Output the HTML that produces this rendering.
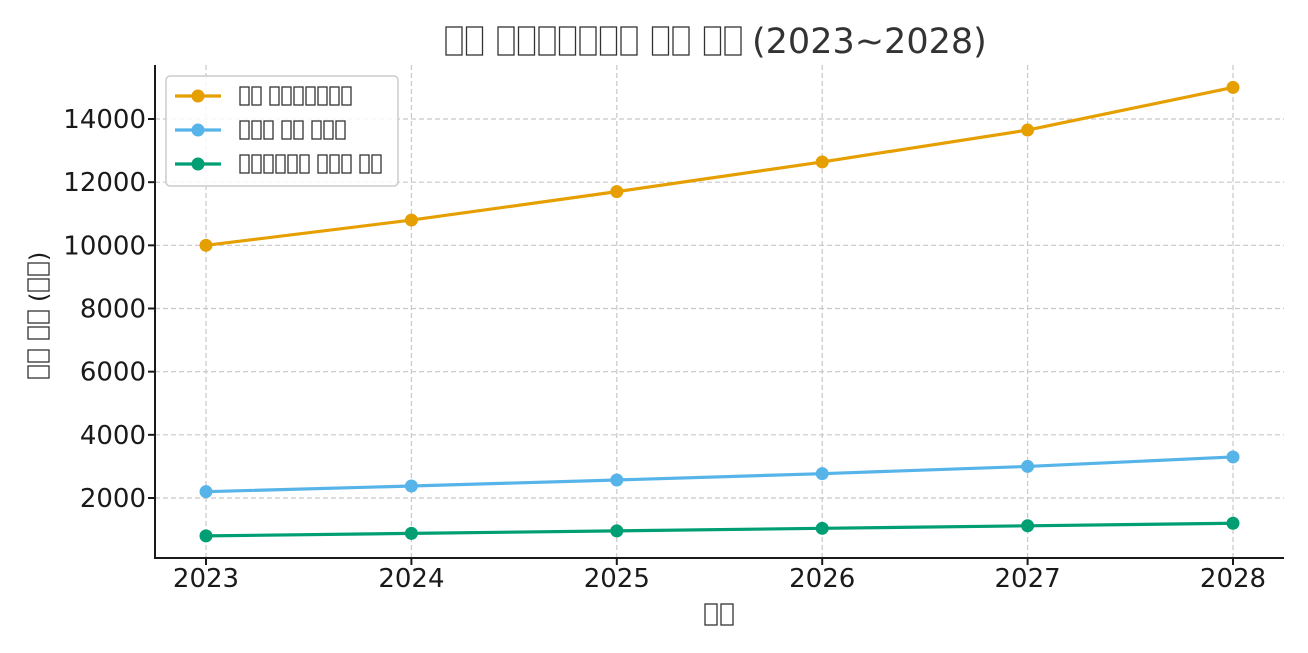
<!DOCTYPE html><html><head><meta charset="utf-8"><style>body{margin:0;background:#fff}svg{display:block}text{font-family:"DejaVu Sans","Liberation Sans",sans-serif}</style></head><body>
<svg id="s" width="1308" height="653" xmlns="http://www.w3.org/2000/svg">
<rect width="1308" height="653" fill="#fff"/>
<g id="grid" stroke="#c8c8c8" stroke-width="1.2" stroke-dasharray="5,3"></g>
<g id="data"></g>
<g stroke="#1a1a1a" stroke-width="2" fill="none"><path d="M155,65 V558 H1284"/></g>
<g id="ticks" fill="#1a1a1a" font-size="26"></g>
<text x="752" y="53" font-size="35" fill="#333">(2023~2028)</text>
<rect x="166" y="76" width="232" height="110" rx="4" fill="#fff" fill-opacity="0.85" stroke="#ccc" stroke-width="1.5"/>
<g id="leg"></g>
<g id="boxes" fill="none" stroke="#333" stroke-width="1.3"></g>
</svg>
<script>
const NS="http://www.w3.org/2000/svg";
function el(p,t,a,txt){const e=document.createElementNS(NS,t);for(const k in a)e.setAttribute(k,a[k]);if(txt!==undefined)e.textContent=txt;document.getElementById(p).appendChild(e);return e;}
const X=i=>206+i*205.4, Y=v=>498-(v-2000)*0.031583;
for(let i=0;i<6;i++){el('grid','line',{x1:X(i),x2:X(i),y1:65,y2:558});el('ticks','line',{x1:X(i),x2:X(i),y1:558,y2:565,stroke:'#1a1a1a','stroke-width':2});el('ticks','text',{x:X(i),y:587,'text-anchor':'middle'},2023+i);}
for(let v=2000;v<=14000;v+=2000){el('grid','line',{x1:155,x2:1284,y1:Y(v),y2:Y(v)});el('ticks','line',{x1:148,x2:155,y1:Y(v),y2:Y(v),stroke:'#1a1a1a','stroke-width':2});el('ticks','text',{x:146,y:Y(v)+9,'text-anchor':'end'},v);}
const S=[["#e69f00",[10000,10800,11700,12640,13650,15000]],["#56b4e9",[2200,2380,2570,2770,3000,3300]],["#009e73",[800,880,960,1040,1120,1200]]];
S.forEach(([c,d],k)=>{el('data','polyline',{points:d.map((v,i)=>X(i)+','+Y(v)).join(' '),fill:'none',stroke:c,'stroke-width':3.2});d.forEach((v,i)=>el('data','circle',{cx:X(i),cy:Y(v),r:6.5,fill:c}));
 const ly=96+34*k;el('leg','line',{x1:175,x2:221,y1:ly,y2:ly,stroke:c,'stroke-width':3.2});el('leg','circle',{cx:198,cy:ly,r:6.5,fill:c});});
function boxes(x,y,w,h,pitch,sp,pat){for(const ch of pat){if(ch==' '){x+=sp;continue;}el('boxes','rect',{x:x,y:y,width:w,height:h});x+=pitch;}return x;}
boxes(446,27,16,28,20.5,11,"□□ □□□□□□□ □□ □□");
boxes(240,87,9,18,12,6,"□□ □□□□□□□");
boxes(240,121,9,18,12,6,"□□□ □□ □□□");
boxes(240,155,9,18,12,6,"□□□□□□ □□□ □□");
boxes(705,604,12,21,16,8,"□□");
(function(){let y=378;const pat="□□ □□ ";for(const ch of pat){if(ch==' '){y-=7;continue;}el('boxes','rect',{x:28,y:y-12,width:21,height:12});y-=16;}
el('ticks','text',{x:0,y:0,transform:'translate(47,'+(y+2)+') rotate(-90)','font-size':24},'(');
y-=9;for(let i=0;i<2;i++){el('boxes','rect',{x:28,y:y-12,width:21,height:12});y-=16;}
el('ticks','text',{x:0,y:0,transform:'translate(47,'+(y+2)+') rotate(-90)','font-size':24},')');})();
</script>
</body></html>
